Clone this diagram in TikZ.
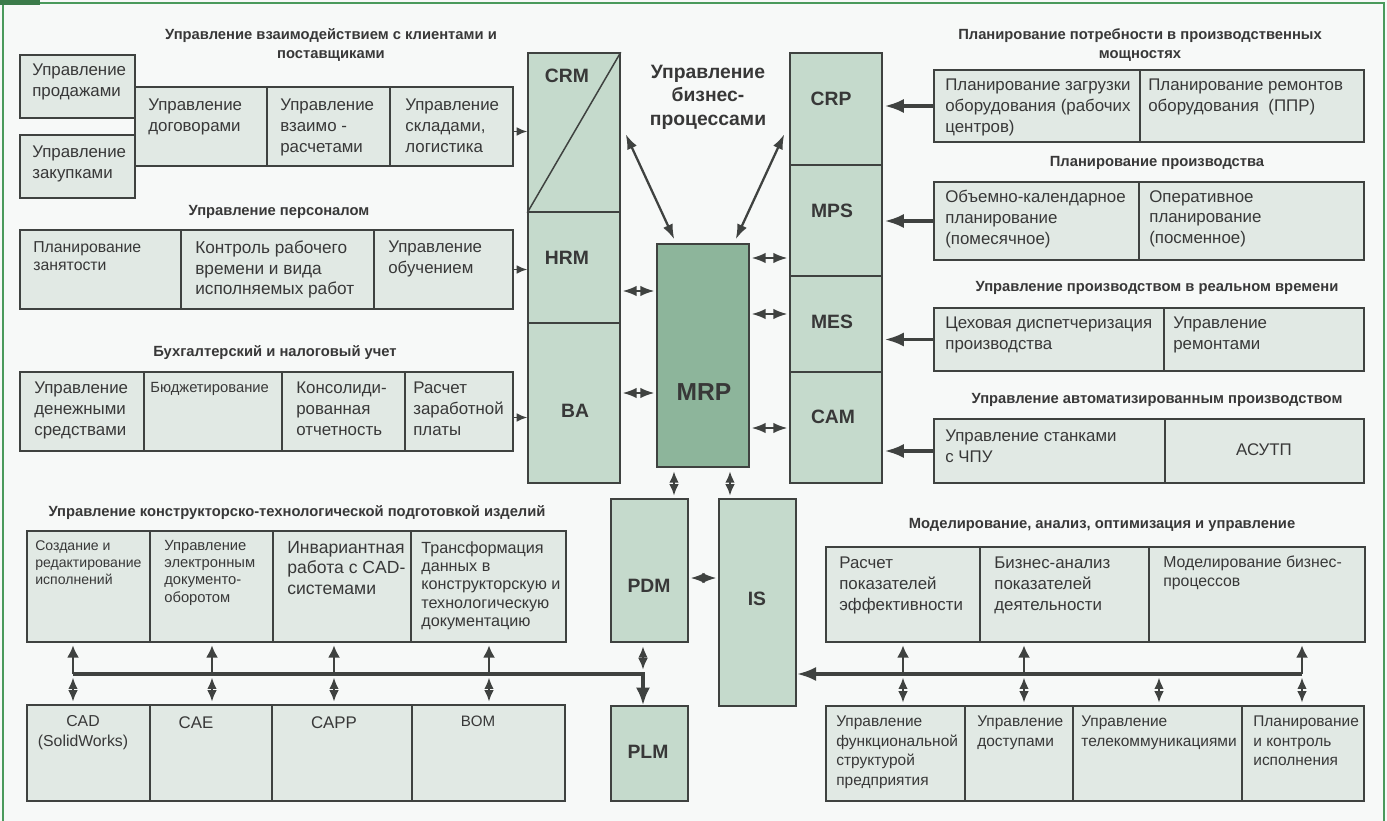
\documentclass[tikz,border=0pt]{standalone}
\usepackage{fontspec}
\setmainfont{Liberation Sans}
\usepackage{xcolor}
\usetikzlibrary{arrows.meta,positioning,calc,fit}

\definecolor{bgc}{HTML}{F7F9F8}
\definecolor{framec}{HTML}{4A9A5C}
\definecolor{cellc}{HTML}{E1E9E4}
\definecolor{colc}{HTML}{C5DACC}
\definecolor{mrpc}{HTML}{8DB59B}
\definecolor{linec}{HTML}{3F4240}
\definecolor{txtc}{HTML}{383838}

\begin{document}
\begin{tikzpicture}[
		x=0.02cm, y=-0.02cm,
		cell/.style={draw=linec, fill=cellc, line width=0.85pt, inner sep=0pt},
		colbox/.style={draw=linec, fill=colc, line width=0.85pt, inner sep=0pt},
		txt/.style={anchor=north west, align=left, inner sep=0pt, text=txtc, font=\fontsize{9.6}{11.8}\selectfont},
		smtxt/.style={txt, font=\fontsize{8.4}{9.8}\selectfont},
		ttl/.style={align=center, inner sep=0pt, text=txtc, font=\bfseries\fontsize{8.4}{11.2}\selectfont},
		lbl/.style={inner sep=0pt, text=txtc, font=\bfseries\fontsize{11}{13}\selectfont},
		inarr/.style={line width=1pt, draw=linec, -{Latex[length=6pt,width=5pt]}},
		bigarr/.style={line width=2pt, draw=linec, -{Latex[length=11pt,width=8pt]}, shorten >=1pt},
		dblarr/.style={line width=1.3pt, draw=linec, {Latex[length=8pt,width=6pt]}-{Latex[length=8pt,width=6pt]}, shorten >=1pt, shorten <=1pt},
		vdbl/.style={line width=1.2pt, draw=linec, {Latex[length=6.5pt,width=5.5pt]}-{Latex[length=6.5pt,width=5.5pt]}, shorten >=1.5pt, shorten <=2pt},
		longarr/.style={line width=1.3pt, draw=linec, {Latex[length=8.5pt,width=6pt]}-{Latex[length=8.5pt,width=6pt]}},
		uparr/.style={line width=1.6pt, draw=linec, -{Latex[length=7pt,width=7pt]}, shorten >=1.5pt},
		bus/.style={line width=2pt, draw=linec},
	]
	\useasboundingbox (0,0) rectangle (1387,821);
	\fill[bgc] (0,0) rectangle (1387,821);
	\draw[framec, line width=1pt] (3,821) -- (3,3) -- (1384,3) -- (1384,821);
	\fill[framec!80!black] (0,0) rectangle (40,5);

	% central columns
	\node[colbox, fit={(528,53) (620,212)}] (crm) {};
	\draw[linec, line width=0.85pt] (crm.south west) -- (crm.north east);
	\node[colbox, fit={(528,212) (620,323)}] (hrm) {};
	\node[colbox, fit={(528,323) (620,483)}] (ba) {};
	\node[lbl] (crm-l) at (567,76) {CRM};
	\node[lbl] (hrm-l) at (567,258) {HRM};
	\node[lbl] (ba-l) at (575,411) {BA};

	\node[colbox, fit={(790,53) (882,165)}] (crp) {};
	\node[colbox, fit={(790,165) (882,276)}] (mps) {};
	\node[colbox, fit={(790,276) (882,372)}] (mes) {};
	\node[colbox, fit={(790,372) (882,483)}] (cam) {};
	\node[lbl] (crp-l) at (831,99) {CRP};
	\node[lbl] (mps-l) at (832,211) {MPS};
	\node[lbl] (mes-l) at (832,322) {MES};
	\node[lbl] (cam-l) at (833,417) {CAM};

	\node[colbox, fill=mrpc, fit={(657,244) (749,467)}] (mrp) {};
	\node[lbl, font=\bfseries\fontsize{14}{16}\selectfont] (mrp-l) at (704,392) {MRP};
	\node[lbl, align=center, font=\bfseries\fontsize{11}{13.4}\selectfont] (bp) at (708,97) {Управление\\бизнес-\\процессами};

	\node[colbox, fit={(611,499) (688,642)}] (pdm) {};
	\node[colbox, fit={(719,499) (796,706)}] (is) {};
	\node[colbox, fit={(611,706) (688,801)}] (plm) {};
	\node[lbl] (pdm-l) at (649,586) {PDM};
	\node[lbl] (is-l) at (757,599) {IS};
	\node[lbl] (plm-l) at (648,752) {PLM};

	% clients and suppliers
	\node[ttl] (t-cl) at (331,45) {Управление взаимодействием с клиентами и\\поставщиками};
	\node[cell, fit={(20,55) (135,118)}] (prod) {};
	\node[cell, fit={(20,135) (135,198)}] (zak) {};
	\node[cell, fit={(135,87) (267,166)}] (dog) {};
	\node[cell, fit={(267,87) (390,166)}] (vz) {};
	\node[cell, fit={(390,87) (513,166)}] (skl) {};
	\node[txt] (prod-t) at (32,64) {Управление\\продажами};
	\node[txt] (zak-t) at (32,146) {Управление\\закупками};
	\node[txt] (dog-t) at (148,99) {Управление\\договорами};
	\node[txt] (vz-t) at (280,99) {Управление\\взаимо -\\расчетами};
	\node[txt] (skl-t) at (405,99) {Управление\\складами,\\логистика};

	% personnel
	\node[ttl] (t-per) at (279,212) {Управление персоналом};
	\node[cell, fit={(20,230) (181,309)}] (zan) {};
	\node[cell, fit={(181,230) (374,309)}] (kontr) {};
	\node[cell, fit={(374,230) (513,309)}] (obuch) {};
	\node[txt, font=\fontsize{9}{10.4}\selectfont] (zan-t) at (33,241) {Планирование\\занятости};
	\node[txt, font=\fontsize{9.8}{11.4}\selectfont] (kontr-t) at (195,241) {Контроль рабочего\\времени и вида\\исполняемых работ};
	\node[txt] (obuch-t) at (388,241) {Управление\\обучением};

	% accounting
	\node[ttl] (t-buh) at (275,353) {Бухгалтерский и налоговый учет};
	\node[cell, fit={(20,372) (144,451)}] (den) {};
	\node[cell, fit={(144,372) (282,451)}] (budg) {};
	\node[cell, fit={(282,372) (405,451)}] (kons) {};
	\node[cell, fit={(405,372) (513,451)}] (rasch) {};
	\node[txt] (den-t) at (34,382) {Управление\\денежными\\средствами};
	\node[txt, font=\fontsize{8.4}{10}\selectfont] (budg-t) at (150,382) {Бюджетирование};
	\node[txt] (kons-t) at (296,382) {Консолиди-\\рованная\\отчетность};
	\node[txt] (rasch-t) at (413,382) {Расчет\\заработной\\платы};

	% capacity planning
	\node[ttl] (t-crp) at (1140,45) {Планирование потребности в производственных\\мощностях};
	\node[cell, fit={(934,70) (1140,142)}] (zagr) {};
	\node[cell, fit={(1140,70) (1364,142)}] (rem) {};
	\node[txt] (zagr-t) at (945,79) {Планирование загрузки\\оборудования (рабочих\\центров)};
	\node[txt] (rem-t) at (1148,79) {Планирование ремонтов\\оборудования\ \ (ППР)};

	% production planning
	\node[ttl] (t-mps) at (1157,163) {Планирование производства};
	\node[cell, fit={(934,182) (1139,260)}] (obem) {};
	\node[cell, fit={(1139,182) (1364,260)}] (oper) {};
	\node[txt] (obem-t) at (945,190) {Объемно-календарное\\планирование\\(помесячное)};
	\node[txt] (oper-t) at (1149,190) {Оперативное\\планирование\\(посменное)};

	% real time
	\node[ttl] (t-mes) at (1157,288) {Управление производством в реальном времени};
	\node[cell, fit={(934,308) (1164,371)}] (cex) {};
	\node[cell, fit={(1164,308) (1364,371)}] (remont) {};
	\node[txt] (cex-t) at (945,317) {Цеховая диспетчеризация\\производства};
	\node[txt] (remont-t) at (1173,317) {Управление\\ремонтами};

	% automated production
	\node[ttl] (t-cam) at (1157,400) {Управление автоматизированным производством};
	\node[cell, fit={(934,419) (1165,483)}] (stank) {};
	\node[cell, fit={(1165,419) (1364,483)}] (asu) {};
	\node[txt] (stank-t) at (945,430) {Управление станками\\с ЧПУ};
	\node[txt, anchor=center] (asu-t) at (1264,450) {АСУТП};

	% design and technology
	\node[ttl] (t-kt) at (297,513) {Управление конструкторско-технологической подготовкой изделий};
	\node[cell, fit={(27,531) (150,642)}] (sozd) {};
	\node[cell, fit={(150,531) (273,642)}] (elek) {};
	\node[cell, fit={(273,531) (411,642)}] (inv) {};
	\node[cell, fit={(411,531) (566,642)}] (trans) {};
	\node[smtxt, font=\fontsize{8}{9.7}\selectfont] (sozd-t) at (35,540) {Создание и\\редактирование\\исполнений};
	\node[smtxt] (elek-t) at (164,540) {Управление\\электронным\\документо-\\оборотом};
	\node[txt, font=\fontsize{10}{11.7}\selectfont] (inv-t) at (287,541) {Инвариантная\\работа с CAD-\\системами};
	\node[txt, font=\fontsize{9.2}{10.5}\selectfont] (trans-t) at (421,541) {Трансформация\\данных в\\конструкторскую и\\технологическую\\документацию};

	\node[cell, fit={(27,705) (150,801)}] (cad) {};
	\node[cell, fit={(150,705) (272,801)}] (cae) {};
	\node[cell, fit={(272,705) (412,801)}] (capp) {};
	\node[cell, fit={(412,705) (565,801)}] (bom) {};
	\node[txt, anchor=center, align=center, font=\fontsize{9}{11.4}\selectfont] (cad-t) at (83,733) {CAD\\(SolidWorks)};
	\node[txt, anchor=center] (cae-t) at (196,723) {CAE};
	\node[txt, anchor=center] (capp-t) at (334,723) {CAPP};
	\node[txt, anchor=center, font=\fontsize{8.6}{10}\selectfont] (bom-t) at (478,721) {BOM};

	% modelling and analysis
	\node[ttl] (t-mod) at (1102,525) {Моделирование, анализ, оптимизация и управление};
	\node[cell, fit={(826,547) (980,642)}] (ras) {};
	\node[cell, fit={(980,547) (1149,642)}] (biz) {};
	\node[cell, fit={(1149,547) (1365,642)}] (mod) {};
	\node[txt] (ras-t) at (839,557) {Расчет\\показателей\\эффективности};
	\node[txt] (biz-t) at (994,557) {Бизнес-анализ\\показателей\\деятельности};
	\node[txt, font=\fontsize{9}{10.8}\selectfont] (mod-t) at (1163,556) {Моделирование бизнес-\\процессов};

	\node[cell, fit={(826,706) (965,801)}] (funk) {};
	\node[cell, fit={(965,706) (1073,801)}] (dost) {};
	\node[cell, fit={(1073,706) (1242,801)}] (tel) {};
	\node[cell, fit={(1242,706) (1364,801)}] (plan) {};
	\node[txt, font=\fontsize{8.8}{11.1}\selectfont] (funk-t) at (836,716) {Управление\\функциональной\\структурой\\предприятия};
	\node[txt, font=\fontsize{8.8}{11.1}\selectfont] (dost-t) at (977,716) {Управление\\доступами};
	\node[txt, font=\fontsize{8.8}{11.1}\selectfont] (tel-t) at (1081,716) {Управление\\телекоммуникациями};
	\node[txt, font=\fontsize{8.8}{11.1}\selectfont] (plan-t) at (1253,716) {Планирование\\и контроль\\исполнения};

	% connectors
	\draw[inarr] ([yshift=-5*0.02cm]skl.east) -- ([yshift=-5*0.02cm]skl.east -| crm.west);
	\draw[inarr] (obuch.east) -- (obuch.east -| hrm.west);
	\draw[inarr] ([yshift=-6*0.02cm]rasch.east) -- ([yshift=-6*0.02cm]rasch.east -| ba.west);

	\draw[bigarr] (zagr.west) -- (zagr.west -| crp.east);
	\draw[bigarr] (obem.west) -- (obem.west -| mps.east);
	\draw[bigarr] (cex.west) -- (cex.west -| mes.east);
	\draw[bigarr] (stank.west) -- (stank.west -| cam.east);

	\draw[longarr] ($(crm.north east)+(5,82)$) -- ($(mrp.north west)+(18,-4)$);
	\draw[longarr] ($(crp.north west)+(-5,82)$) -- ($(mrp.north east)+(-14,-4)$);

	\draw[dblarr] (mrp.east |- 0,258) -- (mps.west |- 0,258);
	\draw[dblarr] (mrp.east |- 0,314) -- (mes.west |- 0,314);
	\draw[dblarr] (mrp.east |- 0,428) -- (cam.west |- 0,428);
	\draw[dblarr] (hrm.east |- 0,291) -- (mrp.west |- 0,291);
	\draw[dblarr] (ba.east |- 0,393) -- (mrp.west |- 0,393);

	\draw[vdbl] (mrp.south -| 674,0) -- (pdm.north -| 674,0);
	\draw[vdbl] (mrp.south -| 730,0) -- (is.north -| 730,0);
	\draw[dblarr] (pdm.east |- 0,578) -- (is.west |- 0,578);

	% left bus
	\coordinate (busl) at (73,674);
	\coordinate (busj) at (643,674);
	\draw[bus, -{Latex[length=10pt,width=8pt]}] (busl) -- (busj) -- (plm.north -| busj);
	\draw[vdbl, shorten >=2.5pt] (pdm.south -| busj) -- (busj);
	\foreach \x/\up/\dn in {73/sozd/cad, 212/elek/cae, 334/inv/capp, 489/trans/bom} {
		\draw[uparr] (busl -| \x,0) -- (\up.south -| \x,0);
		\draw[vdbl] (busl -| \x,0) -- (\dn.north -| \x,0);
	}

	% right bus
	\coordinate (busr) at (1302,674);
	\draw[bus, -{Latex[length=11pt,width=8pt]}] (busr) -- (busr -| is.east);
	\foreach \x/\up/\dn in {903/ras/funk, 1024/biz/dost, 1302/mod/plan} {
		\draw[uparr] (busr -| \x,0) -- (\up.south -| \x,0);
		\draw[vdbl] (busr -| \x,0) -- (\dn.north -| \x,0);
	}
	\draw[vdbl] (busr -| 1159,0) -- (tel.north -| 1159,0);

\end{tikzpicture}
\end{document}
